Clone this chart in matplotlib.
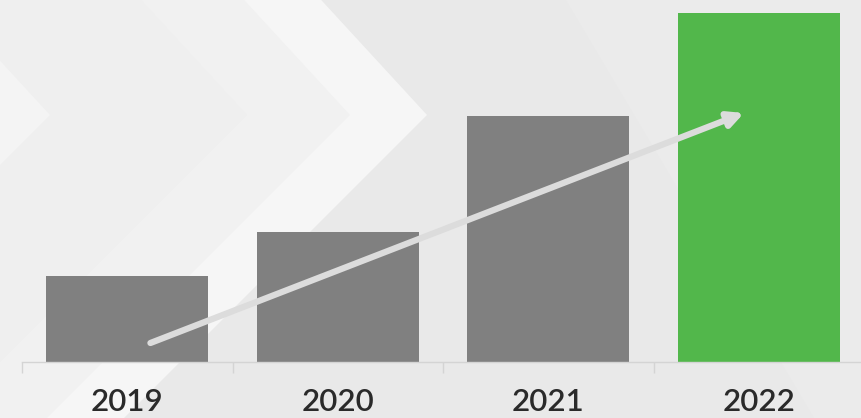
import matplotlib.pyplot as plt
from matplotlib.patches import Polygon

years = ["2019", "2020", "2021", "2022"]
values = [86, 130, 246, 349]
bar_colors = ["#808080", "#808080", "#808080", "#52b74b"]

# trend arrow, in data units (category index, value)
arrow_start = (0.11, 19)
arrow_end = (2.93, 249)

W, H = 861, 418


def chevron_fill(ax, tip_x, tip_y, color):
    # area to the left of a right-pointing chevron edge, in pixel space
    pts = [(-10, -10), (tip_x - tip_y, -10), (tip_x, tip_y),
           (tip_x - (H - tip_y) - 10, H + 10), (-10, H + 10)]
    ax.add_patch(Polygon(pts, closed=True, facecolor=color, edgecolor="none"))


def main() -> None:
    fig = plt.figure(figsize=(W / 100, H / 100), dpi=100)
    fig.patch.set_facecolor("#e9e9e9")

    bg = fig.add_axes([0, 0, 1, 1])
    bg.set_xlim(0, W)
    bg.set_ylim(H, 0)
    bg.axis("off")
    bg.add_patch(Polygon([(560, -10), (W + 10, -10), (W + 10, H + 10), (820, H + 10)],
                         closed=True, facecolor="#ebebeb", edgecolor="none"))
    chevron_fill(bg, 427, 115, "#f6f6f6")
    chevron_fill(bg, 350, 115, "#f1f1f1")
    chevron_fill(bg, 247, 115, "#efefef")
    chevron_fill(bg, 50, 115, "#f4f4f4")

    ax = fig.add_axes([22 / W, (H - 362) / H, 842 / W, 362 / H])
    ax.patch.set_alpha(0)
    x = range(len(years))
    ax.bar(x, values, width=0.77, color=bar_colors, zorder=2)
    ax.set_xlim(-0.5, 3.5)
    ax.set_ylim(0, 362)

    ax.annotate("", xy=arrow_end, xytext=arrow_start,
                arrowprops=dict(arrowstyle="-|>,head_length=0.9,head_width=0.45",
                                color="#dcdcdc", lw=4.5, shrinkA=0, shrinkB=0),
                zorder=3)

    for side in ["top", "right", "left"]:
        ax.spines[side].set_visible(False)
    ax.spines["bottom"].set_color("#d4d4d4")
    ax.spines["bottom"].set_linewidth(1)
    ax.set_yticks([])
    ax.set_xticks([-0.5, 0.5, 1.5, 2.5, 3.5])
    ax.set_xticklabels([])
    ax.set_xticks(list(x), minor=True)
    ax.set_xticklabels(years, minor=True, fontsize=22.5, family="Lato",
                       fontweight="semibold", color="#2a2a2a")
    ax.tick_params(axis="x", which="major", length=8, color="#d4d4d4", width=1)
    ax.tick_params(axis="x", which="minor", length=0, pad=19)

    fig.savefig("out.png", dpi=100)


if __name__ == "__main__":
    main()
